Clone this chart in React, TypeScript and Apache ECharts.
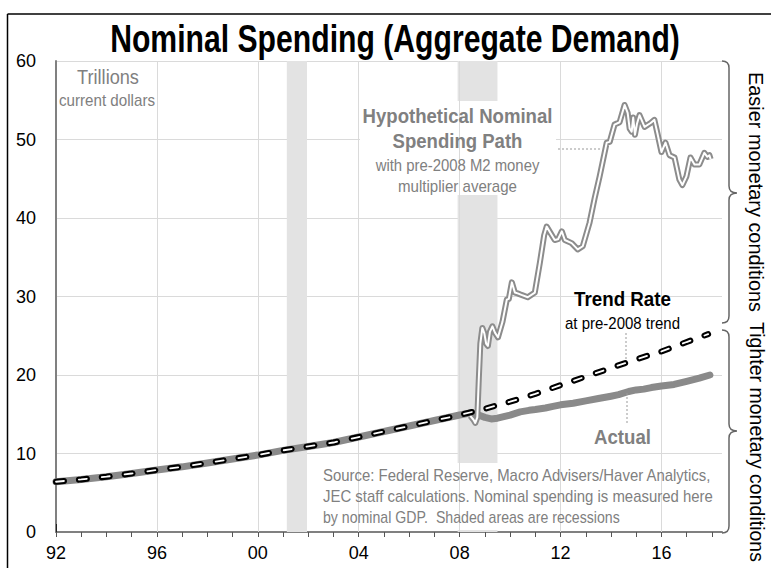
import React, { useEffect, useRef } from "react";
import * as echarts from "echarts";

const FONT = '"Liberation Sans", Arial, sans-serif';

// ---- data ----
const yearTicks = [1992, 1993, 1994, 1995, 1996, 1997, 1998, 1999, 2000, 2001, 2002, 2003, 2004, 2005, 2006, 2007, 2008, 2009, 2010, 2011, 2012, 2013, 2014, 2015, 2016, 2017, 2018];
const labelYears = [1992, 1996, 2000, 2004, 2008, 2012, 2016];
const gridYears = [1996, 2000, 2004, 2008, 2012, 2016];
const recessions: [number, number][] = [
  [2001.15, 2001.95],
  [2007.92, 2009.5],
];

// common history (actual = trend before 2008), trillions of current dollars
const history: [number, number][] = [
  [1992.0, 6.4], [1993.0, 6.7], [1994.0, 7.05], [1995.0, 7.45], [1996.0, 7.9],
  [1997.0, 8.3], [1998.0, 8.8], [1999.0, 9.3], [2000.0, 9.8], [2001.0, 10.4],
  [2002.0, 10.9], [2003.0, 11.4], [2004.0, 12.1], [2005.0, 12.8], [2006.0, 13.5],
  [2007.0, 14.2], [2008.0, 14.9],
];

const actualPost: [number, number][] = [
  [2008.5, 15.2], [2008.75, 14.9], [2009.0, 14.6], [2009.25, 14.4], [2009.5, 14.5],
  [2009.75, 14.7], [2010.0, 14.9], [2010.4, 15.3], [2010.75, 15.5], [2011.0, 15.6],
  [2011.4, 15.8], [2011.7, 16.0], [2012.0, 16.2], [2012.5, 16.4], [2013.0, 16.7],
  [2013.5, 17.0], [2014.0, 17.3], [2014.3, 17.5], [2014.7, 17.9], [2015.0, 18.1],
  [2015.3, 18.2], [2015.6, 18.4], [2016.0, 18.6], [2016.5, 18.8], [2017.0, 19.2],
  [2017.5, 19.6], [2017.92, 20.0],
];

const trendPost: [number, number][] = [
  [2008.5, 15.3], [2009.0, 15.7], [2010.0, 16.6], [2011.0, 17.6], [2012.0, 18.7],
  [2013.0, 19.8], [2014.0, 20.9], [2015.0, 22.0], [2016.0, 23.0], [2017.0, 24.2],
  [2017.85, 25.2],
];

const hypothetical: [number, number][] = [
  [2008.42, 14.8], [2008.55, 14.3], [2008.62, 13.9], [2008.7, 14.6], [2008.76, 19.5],
  [2008.82, 24.0], [2008.9, 26.0], [2008.98, 25.3], [2009.05, 24.0], [2009.12, 23.7],
  [2009.2, 25.5], [2009.3, 26.2], [2009.4, 25.4], [2009.52, 24.8], [2009.7, 26.8],
  [2009.87, 29.6], [2009.95, 29.7], [2010.07, 31.8], [2010.19, 30.5], [2010.3, 30.4],
  [2010.45, 30.2], [2010.7, 29.9], [2010.98, 30.5], [2011.18, 34.3], [2011.35, 37.8],
  [2011.45, 38.9], [2011.6, 38.1], [2011.77, 37.2], [2011.9, 37.3], [2012.05, 38.3],
  [2012.17, 37.2], [2012.44, 36.8], [2012.68, 36.0], [2012.88, 36.4], [2013.15, 39.4],
  [2013.35, 42.5], [2013.55, 45.3], [2013.83, 49.6], [2013.95, 49.7], [2014.14, 51.9],
  [2014.34, 52.2], [2014.54, 54.4], [2014.66, 53.4], [2014.74, 51.4], [2014.82, 51.0],
  [2014.88, 52.8], [2014.95, 50.6], [2015.03, 52.0], [2015.13, 53.1], [2015.33, 51.6],
  [2015.57, 52.1], [2015.72, 52.5], [2015.84, 50.8], [2016.0, 48.4], [2016.16, 49.6],
  [2016.32, 48.0], [2016.52, 47.7], [2016.71, 44.9], [2016.83, 44.2], [2016.99, 45.3],
  [2017.15, 47.7], [2017.31, 46.8], [2017.5, 46.8], [2017.7, 48.3], [2017.82, 47.8],
  [2017.9, 48.0], [2017.95, 47.5],
];

const sourceLines = [
  "Source: Federal Reserve, Macro Advisers/Haver Analytics,",
  "JEC staff calculations. Nominal spending is measured here",
  "by nominal GDP.  Shaded areas are recessions",
];
const sourceWidths = [389, 390, 297];

// ---- braces (right side) ----
echarts.graphic.registerShape(
  "braceTop",
  echarts.graphic.extendPath(
    "M722,61 Q729,61 729,68 L729,186 Q729,193 737,193 Q729,193 729,200 L729,316 Q729,323 722,323",
    {}
  )
);
echarts.graphic.registerShape(
  "braceBottom",
  echarts.graphic.extendPath(
    "M722,330 Q729,330 729,337 L729,424 Q729,431 737,431 Q729,431 729,438 L729,526 Q729,533 722,533",
    {}
  )
);

const GRAY = "#808080";

let measureCtx: CanvasRenderingContext2D | null = null;
function measure(text: string, size: number, weight: string): number {
  if (!measureCtx) measureCtx = document.createElement("canvas").getContext("2d");
  if (!measureCtx) return text.length * size * 0.5;
  measureCtx.font = `${weight} ${size}px ${FONT}`;
  return measureCtx.measureText(text).width;
}

function txt(
  text: string,
  x: number,
  y: number,
  size: number,
  fill: string,
  width: number,
  weight: string = "normal",
  align: string = "center",
  rotation = 0
) {
  const w = measure(text, size, weight);
  return {
    type: "text",
    x,
    y,
    rotation,
    scaleX: w > 0 ? width / w : 1,
    z: 30,
    style: {
      text,
      fill,
      fontSize: size,
      fontFamily: FONT,
      fontWeight: weight,
      align,
      verticalAlign: "middle",
    },
  };
}

export default function App() {
  const ref = useRef<HTMLDivElement>(null);
  useEffect(() => {
    if (!ref.current) return;
    const chart = echarts.init(ref.current, undefined, { renderer: "svg" });
    const actual = [...history, ...actualPost];
    const trend = [...history, ...trendPost];
    const yy = (v: number) => String(v % 100).padStart(2, "0");

    const graphic: any[] = [
      { type: "line", z: 40, shape: { x1: 7.5, y1: 14, x2: 771, y2: 14 }, style: { stroke: "#000", lineWidth: 1.5 } },
      { type: "line", z: 40, shape: { x1: 7.5, y1: 14, x2: 7.5, y2: 568 }, style: { stroke: "#000", lineWidth: 1.5 } },
      { type: "rect", z: 5, shape: { x: 360, y: 101, width: 196, height: 94 }, style: { fill: "#fff" } },
      { type: "rect", z: 5, shape: { x: 316, y: 463, width: 400, height: 67 }, style: { fill: "#fff" } },
      txt("Nominal Spending (Aggregate Demand)", 395, 39, 38, "#000", 570, "bold"),
      txt("Trillions", 108, 77, 21, GRAY, 62),
      txt("current dollars", 107, 100, 16, GRAY, 96),
      txt("Hypothetical Nominal", 457.5, 116, 21, GRAY, 190, "bold"),
      txt("Spending Path", 457.5, 141, 21, GRAY, 130, "bold"),
      txt("with pre-2008 M2 money", 457.5, 165, 16, GRAY, 164),
      txt("multiplier average", 457.5, 186, 16, GRAY, 119),
      txt("Trend Rate", 622.5, 299, 21, "#000", 97, "bold"),
      txt("at pre-2008 trend", 622.5, 323, 16, "#000", 115),
      txt("Actual", 622.5, 437, 21, GRAY, 57, "bold"),
      ...sourceLines.map((s, i) => txt(s, 323, 475 + i * 21, 16, GRAY, sourceWidths[i], "normal", "left")),
      txt("Easier monetary conditions", 757, 192, 21, "#000", 240, "normal", "center", -Math.PI / 2),
      txt("Tighter monetary conditions", 757, 442, 21, "#000", 240, "normal", "center", -Math.PI / 2),
      { type: "line", z: 20, shape: { x1: 558, y1: 149, x2: 600, y2: 149 }, style: { stroke: "#999", lineWidth: 1, lineDash: [2, 2] } },
      { type: "line", z: 20, shape: { x1: 626, y1: 333, x2: 626, y2: 360 }, style: { stroke: "#999", lineWidth: 1, lineDash: [2, 2] } },
      { type: "line", z: 20, shape: { x1: 627, y1: 393, x2: 627, y2: 425 }, style: { stroke: "#999", lineWidth: 1, lineDash: [2, 2] } },
      { type: "braceTop", z: 20, x: 0, y: 0, style: { stroke: "#666", lineWidth: 1.5, fill: "none" } },
      { type: "braceBottom", z: 20, x: 0, y: 0, style: { stroke: "#666", lineWidth: 1.5, fill: "none" } },
    ];

    chart.setOption({
      animation: false,
      backgroundColor: "#fff",
      grid: { left: 56, right: 49, top: 61, bottom: 36, containLabel: false },
      xAxis: [
        {
          type: "value",
          min: 1992,
          max: 2018.4,
          axisLine: { show: true, lineStyle: { color: GRAY, width: 2 } },
          axisTick: { show: true, length: 5, customValues: yearTicks, lineStyle: { color: "#555", width: 1 } },
          axisLabel: {
            customValues: labelYears,
            formatter: (v: number) => yy(v),
            fontSize: 18,
            fontFamily: FONT,
            color: "#000",
            margin: 12,
          },
          splitLine: { show: false },
        },
        {
          type: "value",
          min: 1992,
          max: 2018.4,
          position: "bottom",
          axisLine: { show: false },
          axisTick: { show: true, inside: true, length: 8, customValues: labelYears, lineStyle: { color: "#222", width: 1 } },
          axisLabel: { show: false },
          splitLine: { show: false },
        },
      ],
      yAxis: {
        type: "value",
        min: 0,
        max: 60,
        interval: 10,
        axisLine: { show: true, lineStyle: { color: GRAY, width: 2 } },
        axisTick: { show: false },
        axisLabel: { fontSize: 18, fontFamily: FONT, color: "#000", margin: 20 },
        splitLine: { show: true, lineStyle: { color: "#dadada", width: 1 } },
      },
      graphic,
      series: [
        {
          type: "line",
          data: [],
          z: 1,
          silent: true,
          markArea: {
            silent: true,
            itemStyle: { color: "#e3e3e3" },
            data: recessions.map(([a, b]) => [{ xAxis: a }, { xAxis: b }]),
          },
          markLine: {
            silent: true,
            symbol: "none",
            label: { show: false },
            lineStyle: { color: "#dadada", width: 1, type: "solid" },
            data: gridYears.map((g) => ({ xAxis: g })),
          },
        },
        {
          name: "Actual",
          type: "line",
          data: actual,
          showSymbol: false,
          z: 10,
          lineStyle: { color: "#8a8a8a", width: 7, cap: "round", join: "round" },
        },
        {
          name: "Hypothetical",
          type: "line",
          data: hypothetical,
          showSymbol: false,
          z: 11,
          lineStyle: { color: "#8c8c8c", width: 6, join: "round" },
        },
        {
          name: "HypotheticalInner",
          type: "line",
          data: hypothetical,
          showSymbol: false,
          z: 12,
          lineStyle: { color: "#ffffff", width: 2, join: "round" },
        },
        {
          name: "Trend",
          type: "line",
          data: trend,
          showSymbol: false,
          z: 13,
          lineStyle: { color: "#000", width: 6, type: [8, 15], cap: "round" },
        },
        {
          name: "TrendInner",
          type: "line",
          data: trend,
          showSymbol: false,
          z: 14,
          lineStyle: { color: "#fff", width: 1.8, type: [8, 15], cap: "round" },
        },
      ],
    });
    return () => chart.dispose();
  }, []);
  return <div ref={ref} style={{ position: "fixed", left: 0, top: 0, width: 771, height: 568, background: "#fff" }} />;
}
